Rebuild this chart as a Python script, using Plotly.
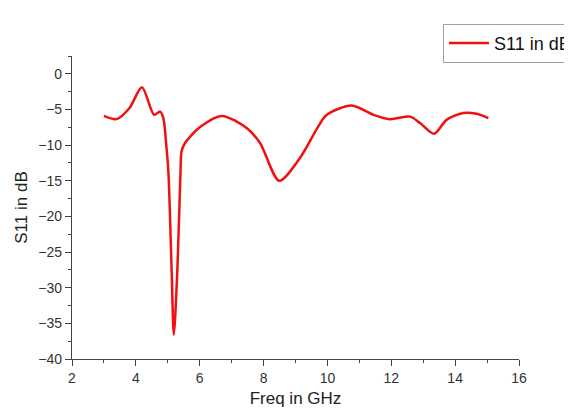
import plotly.graph_objects as go

freq_ghz = [3.0, 3.4, 3.8, 4.19, 4.57, 4.76, 4.86, 4.96, 5.02, 5.12, 5.19, 5.30, 5.40,
            5.43, 5.54, 6.0, 6.69, 7.47, 7.89, 8.49, 9.14, 9.71, 9.98, 10.76, 11.44,
            11.96, 12.59, 12.9, 13.34, 13.73, 14.25, 14.67, 15.04]
s11_db = [-5.9, -6.35, -4.8, -1.9, -5.75, -5.3, -6.2, -10.4, -13.8, -27.5, -36.6, -27.5,
          -13.5, -10.9, -9.7, -7.5, -5.9, -7.6, -9.7, -15.0, -11.8, -7.4, -5.75, -4.44,
          -5.75, -6.36, -6.0, -6.9, -8.42, -6.46, -5.5, -5.6, -6.2]

x_ticks = [2, 4, 6, 8, 10, 12, 14, 16]
y_ticks = [0, -5, -10, -15, -20, -25, -30, -35, -40]

fig = go.Figure()
fig.add_trace(go.Scatter(
    x=freq_ghz, y=s11_db, mode="lines", name="S11 in dB",
    line=dict(color="#f01010", width=2.5, shape="spline", smoothing=0.8),
))

axis_common = dict(
    showline=True, linecolor="#444444", linewidth=1.2,
    ticks="outside", ticklen=6, tickwidth=1.2, tickcolor="#444444",
    showgrid=False, zeroline=False,
    tickfont=dict(family="Liberation Sans, Arial, sans-serif", size=14, color="#333333"),
    mirror=False,
)

# page body has an 8px margin, so the figure is 8px smaller than the window
fig.update_layout(
    width=564, height=400,
    margin=dict(l=64, r=53, t=48, b=49, autoexpand=False),
    paper_bgcolor="white", plot_bgcolor="white",
    font=dict(family="Liberation Sans, Arial, sans-serif", color="#222222"),
    showlegend=True,
    legend=dict(
        x=0.83, y=1.106, xanchor="left", yanchor="top",
        bordercolor="#a0a0a0", borderwidth=1, bgcolor="white",
        font=dict(size=18, color="#111111"),
        tracegroupgap=0, itemwidth=40,
    ),
    xaxis=dict(
        range=[2, 16], tickvals=x_ticks,
        ticktext=[str(v) for v in x_ticks],
        minor=dict(dtick=1, ticklen=3, tickcolor="#444444", ticks="outside"),
        title=dict(text="Freq in GHz", font=dict(size=17, color="#222222"), standoff=8),
        **axis_common,
    ),
    yaxis=dict(
        range=[-40, 2.5], tickvals=y_ticks,
        ticktext=["\u2212" + str(-v) if v < 0 else str(v) for v in y_ticks],
        minor=dict(dtick=2.5, ticklen=3, tickcolor="#444444", ticks="outside"),
        title=dict(text="S11 in dB", font=dict(size=17, color="#222222"), standoff=6),
        **axis_common,
    ),
)

fig.write_html("out.html")
